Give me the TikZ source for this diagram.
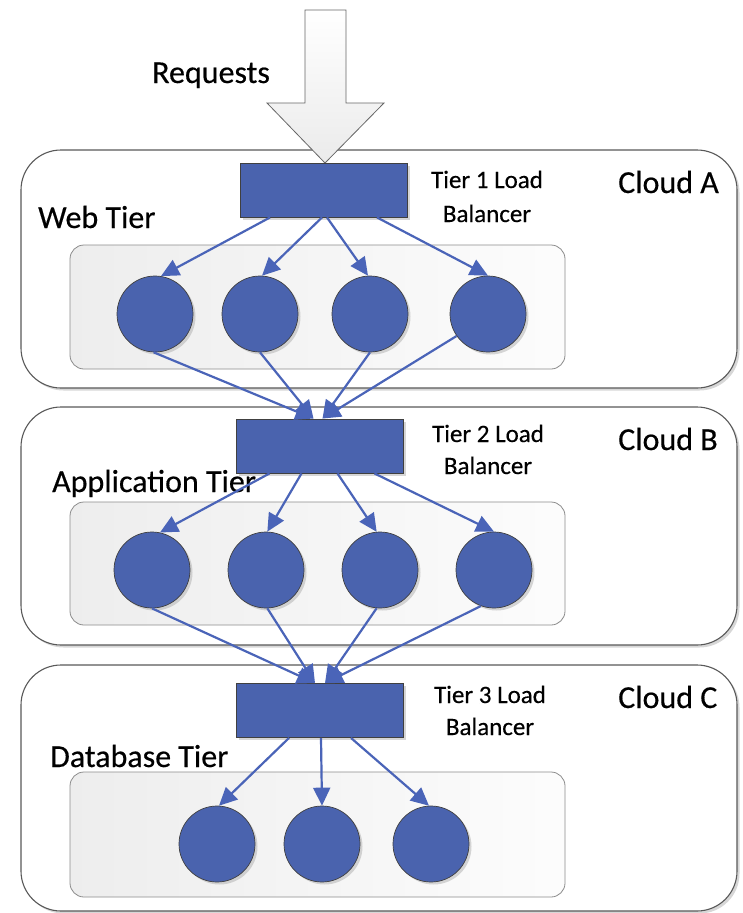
\documentclass[tikz,border=0pt]{standalone}
\usepackage{fontspec}
\setmainfont[FakeBold=0.4]{Carlito}
\usetikzlibrary{arrows.meta,shadows}
\definecolor{nodeblue}{HTML}{4A63AE}
\definecolor{linkblue}{HTML}{4A64B8}
\definecolor{edgegray}{HTML}{404040}
\begin{document}
\begin{tikzpicture}[x=1pt,y=-1pt,
  softshadow/.style={drop shadow={shadow xshift=2.5pt,shadow yshift=-2.5pt,fill=black!35,opacity=0.45}},
  cloudbox/.style={draw=black!65, line width=1.1pt, rounded corners=40pt, fill=white, inner sep=0pt, softshadow},
  tierbox/.style={draw=black!45, line width=0.8pt, rounded corners=14pt, left color=black!7, right color=black!1, inner sep=0pt},
  lbbox/.style={draw=edgegray, line width=0.9pt, fill=nodeblue, minimum width=167pt, minimum height=54pt, inner sep=0pt, softshadow},
  server/.style={circle, draw=edgegray, line width=0.7pt, fill=nodeblue, minimum size=76pt, inner sep=0pt, softshadow},
  link/.style={draw=linkblue, line width=2.2pt, -{Triangle[width=17pt,length=18pt]}},
  biglabel/.style={font=\fontsize{32}{38}\selectfont, inner sep=0pt},
  smalllabel/.style={font=\fontsize{25}{30}\selectfont, inner sep=0pt}]
\useasboundingbox (0,0) rectangle (742,913);

% clouds
\node[cloudbox, minimum width=716pt, minimum height=238pt] (cloudA) at (379,269) {};
\node[cloudbox, minimum width=716pt, minimum height=238pt] (cloudB) at (379,526) {};
\node[cloudbox, minimum width=716pt, minimum height=246pt] (cloudC) at (379,788) {};

% tier boxes
\node[tierbox, minimum width=495pt, minimum height=124pt] (tierA) at (317.5,307) {};
\node[tierbox, minimum width=495pt, minimum height=123pt] (tierB) at (317.5,563.5) {};
\node[tierbox, minimum width=495pt, minimum height=125pt] (tierC) at (317.5,834.5) {};

% requests block arrow
\draw[draw=black!60, line width=0.8pt, top color=white, bottom color=black!8]
  (305,10) -- (346,10) -- (346,103) -- (384,103) -- (325,163) -- (267,103) -- (305,103) -- cycle;

% load balancers
\node[lbbox] (lbA) at (324,190) {};
\node[lbbox] (lbB) at (319.5,446) {};
\node[lbbox] (lbC) at (320,710.5) {};

% servers
\node[server] (a1) at (155,314) {};
\node[server] (a2) at (260,314) {};
\node[server] (a3) at (370,314) {};
\node[server] (a4) at (488,314) {};
\node[server] (b1) at (152,570) {};
\node[server] (b2) at (266,570) {};
\node[server] (b3) at (380,570) {};
\node[server] (b4) at (494,570) {};
\node[server] (c1) at (217,844) {};
\node[server] (c2) at (322,844) {};
\node[server] (c3) at (431,844) {};

% labels
\node[biglabel, anchor=base west] (req) at (152,83) {Requests};
\node[biglabel, anchor=base west] (webt) at (38,228) {Web Tier};
\node[biglabel, anchor=base west] (appt) at (52,492) {Application Tier};
\node[biglabel, anchor=base west] (dbt) at (50,767) {Database Tier};
\node[biglabel, anchor=base west] (cA) at (618,193) {Cloud A};
\node[biglabel, anchor=base west] (cB) at (618,450) {Cloud B};
\node[biglabel, anchor=base west] (cC) at (618,708) {Cloud C};
\node[smalllabel, anchor=base] (t1a) at (487,188) {Tier 1 Load};
\node[smalllabel, anchor=base] (t1b) at (487,222) {Balancer};
\node[smalllabel, anchor=base] (t2a) at (488,442) {Tier 2 Load};
\node[smalllabel, anchor=base] (t2b) at (488,474) {Balancer};
\node[smalllabel, anchor=base] (t3a) at (490,703) {Tier 3 Load};
\node[smalllabel, anchor=base] (t3b) at (490,735) {Balancer};

% links tier 1
\draw[link] ([xshift=-54pt]lbA.south) -- (a1.81);
\draw[link] ([xshift=-2pt]lbA.south) -- (a2.87);
\draw[link] ([xshift=3pt]lbA.south) -- (a3.93);
\draw[link] ([xshift=53pt]lbA.south) -- (a4.90);
% web -> tier 2
\draw[link] (a1.-92) -- ([xshift=-6pt]lbB.north);
\draw[link] (a2.-90) -- ([xshift=-6pt]lbB.north);
\draw[link] (a3.-90) -- ([xshift=3pt]lbB.north);
\draw[link] (a4.-145) -- ([xshift=3pt]lbB.north);
% tier 2 -> app
\draw[link] ([xshift=-50pt]lbB.south) -- (b1.78);
\draw[link] ([xshift=-18pt]lbB.south) -- (b2.88);
\draw[link] ([xshift=18pt]lbB.south) -- (b3.95);
\draw[link] ([xshift=55pt]lbB.south) -- (b4.90);
% app -> tier 3
\draw[link] (b1.-90) -- ([xshift=-5pt]lbC.north);
\draw[link] (b2.-88) -- ([xshift=-5pt]lbC.north);
\draw[link] (b3.-95) -- ([xshift=5pt]lbC.north);
\draw[link] (b4.-110) -- ([xshift=5pt]lbC.north);
% tier 3 -> db
\draw[link] ([xshift=-31pt]lbC.south) -- (c1.87);
\draw[link] ([xshift=1pt]lbC.south) -- (c2.90);
\draw[link] ([xshift=31pt]lbC.south) -- (c3.93);
\end{tikzpicture}
\end{document}
